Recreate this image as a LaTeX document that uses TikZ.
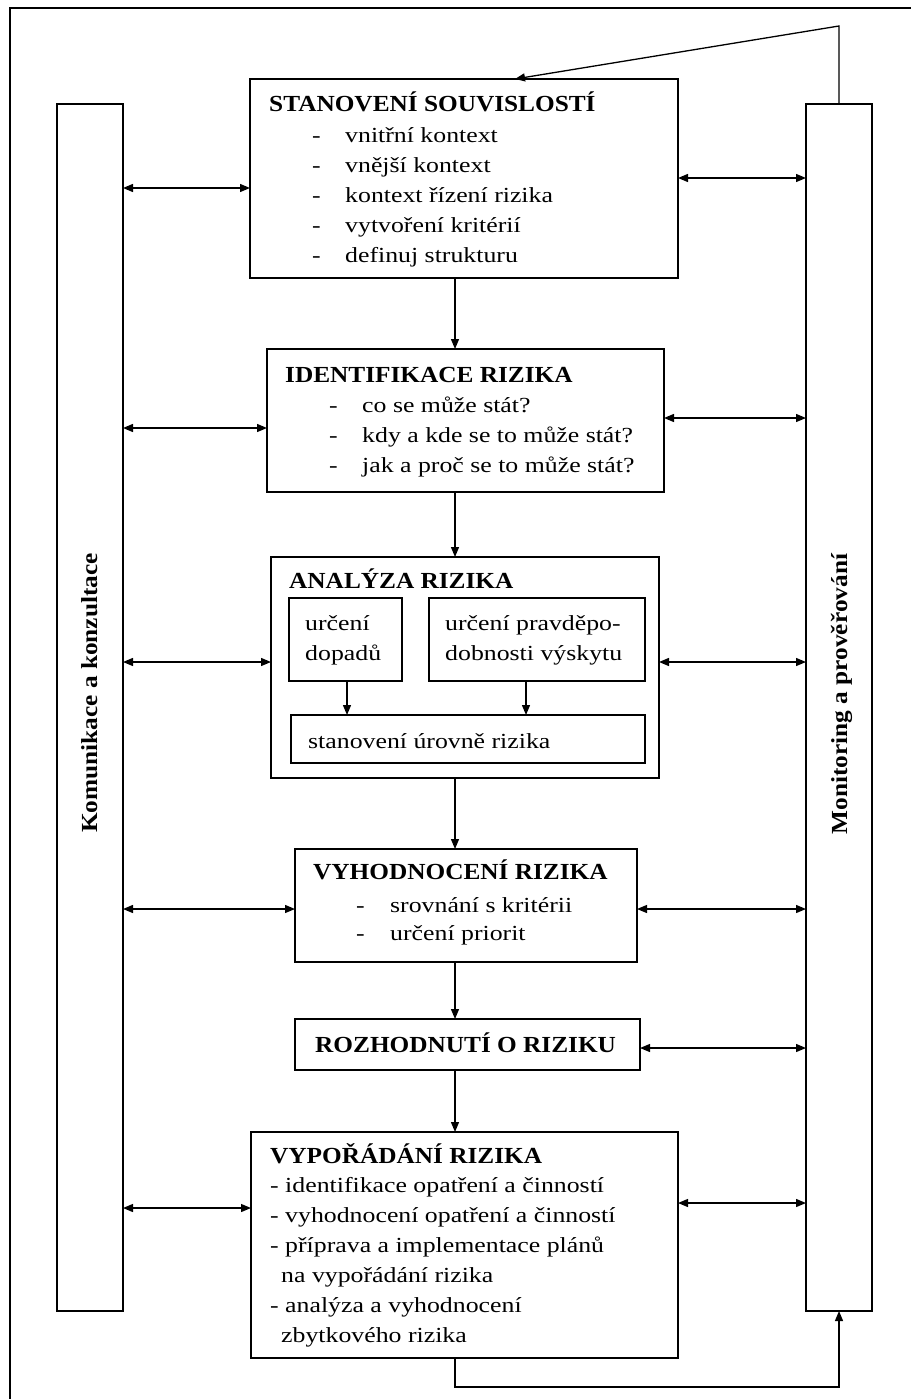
\documentclass[tikz,border=0pt]{standalone}
\usepackage{fontspec}
\setmainfont{Liberation Serif}
\newfontfamily\bodyfont{Liberation Serif}[FakeStretch=1.2]
\newfontfamily\titlefont{Liberation Serif}[FakeStretch=1.1]
\usetikzlibrary{arrows.meta}
\begin{document}
\begin{tikzpicture}[x=1pt,y=-1pt,
  box/.style={draw, line width=1.4pt, inner sep=0pt, outer sep=0pt},
  ttl/.style={anchor=base west, inner sep=0pt, font=\titlefont\bfseries\fontsize{23}{27}\selectfont},
  bd/.style={anchor=base west, inner sep=0pt, font=\bodyfont\fontsize{21.5}{25}\selectfont},
  vt/.style={anchor=base, inner sep=0pt, rotate=90, font=\titlefont\bfseries\fontsize{23}{27}\selectfont},
  arr/.style={line width=1.3pt, -{Triangle[length=10pt,width=8pt]}},
  darr/.style={line width=1.3pt, {Triangle[length=10pt,width=8pt]}-{Triangle[length=10pt,width=8pt]}},
  fb/.style={line width=1.3pt}]
\useasboundingbox (0,0) rectangle (911,1399);
% outer frame
\draw[line width=1.5pt] (10,1399) -- (10,8) -- (911,8);
% side columns
\node[box, minimum width=66pt, minimum height=1207pt] (kom) at (90,707.5) {};
\node[box, minimum width=66pt, minimum height=1207pt] (mon) at (839,707.5) {};
\node[vt] (komT) at (97,693) {Komunikace a konzultace};
\node[vt] (monT) at (847,694) {Monitoring a prověřování};
% main boxes
\node[box, minimum width=428pt, minimum height=199pt] (stan) at (464,178.5) {};
\node[box, minimum width=397pt, minimum height=143pt] (ident) at (465.5,420.5) {};
\node[box, minimum width=388pt, minimum height=221pt] (anal) at (465,667.5) {};
\node[box, minimum width=113pt, minimum height=83pt] (a1) at (345.5,639.5) {};
\node[box, minimum width=216pt, minimum height=83pt] (a2) at (537,639.5) {};
\node[box, minimum width=354pt, minimum height=48pt] (a3) at (468,739) {};
\node[box, minimum width=342pt, minimum height=113pt] (vyh) at (466,905.5) {};
\node[box, minimum width=345pt, minimum height=51pt] (roz) at (467.5,1044.5) {};
\node[box, minimum width=427pt, minimum height=226pt] (vyp) at (464.5,1245) {};
% texts: Stanoveni
\node[ttl] (stanT) at (269,112) {STANOVENÍ SOUVISLOSTÍ};
\node[bd] (s1d) at (312,143) {-};
\node[bd] (s1) at (345,143) {vnitřní kontext};
\node[bd] (s2d) at (312,172) {-};
\node[bd] (s2) at (345,172) {vnější kontext};
\node[bd] (s3d) at (312,202) {-};
\node[bd] (s3) at (345,202) {kontext řízení rizika};
\node[bd] (s4d) at (312,232) {-};
\node[bd] (s4) at (345,232) {vytvoření kritérií};
\node[bd] (s5d) at (312,262) {-};
\node[bd] (s5) at (345,262) {definuj strukturu};
% Identifikace
\node[ttl] (identT) at (285,382) {IDENTIFIKACE RIZIKA};
\node[bd] (i1d) at (329,412) {-};
\node[bd] (i1) at (362,412) {co se může stát?};
\node[bd] (i2d) at (329,442) {-};
\node[bd] (i2) at (362,442) {kdy a kde se to může stát?};
\node[bd] (i3d) at (329,472) {-};
\node[bd] (i3) at (362,472) {jak a proč se to může stát?};
% Analyza
\node[ttl] (analT) at (289,588) {ANALÝZA RIZIKA};
\node[bd] (a1a) at (305,630) {určení};
\node[bd] (a1b) at (305,660) {dopadů};
\node[bd] (a2a) at (445,630) {určení pravděpo-};
\node[bd] (a2b) at (445,660) {dobnosti výskytu};
\node[bd] (a3a) at (308,748) {stanovení úrovně rizika};
% Vyhodnoceni
\node[ttl] (vyhT) at (313,879) {VYHODNOCENÍ RIZIKA};
\node[bd] (v1d) at (356,912) {-};
\node[bd] (v1) at (390,912) {srovnání s kritérii};
\node[bd] (v2d) at (356,940) {-};
\node[bd] (v2) at (390,940) {určení priorit};
% Rozhodnuti
\node[ttl] (rozT) at (315,1052) {ROZHODNUTÍ O RIZIKU};
% Vyporadani
\node[ttl] (vypT) at (270,1163) {VYPOŘÁDÁNÍ RIZIKA};
\node[bd] (p1) at (270,1192) {- identifikace opatření a činností};
\node[bd] (p2) at (270,1222) {- vyhodnocení opatření a činností};
\node[bd] (p3) at (270,1252) {- příprava a implementace plánů};
\node[bd] (p4) at (281,1282) {na vypořádání rizika};
\node[bd] (p5) at (270,1312) {- analýza a vyhodnocení};
\node[bd] (p6) at (281,1342) {zbytkového rizika};
% vertical flow arrows
\coordinate (cx) at (455,0);
\draw[arr] (stan.south -| cx) -- (ident.north -| cx);
\draw[arr] (ident.south -| cx) -- (anal.north -| cx);
\draw[arr] (anal.south -| cx) -- (vyh.north -| cx);
\draw[arr] (vyh.south -| cx) -- (roz.north -| cx);
\draw[arr] (roz.south -| cx) -- (vyp.north -| cx);
% inner arrows
\coordinate (c1) at (347,0);
\coordinate (c2) at (526,0);
\draw[arr] (a1.south -| c1) -- (a3.north -| c1);
\draw[arr] (a2.south -| c2) -- (a3.north -| c2);
% side arrows
\coordinate (yL1) at (0,188); \coordinate (yR1) at (0,178);
\coordinate (yL2) at (0,428); \coordinate (yR2) at (0,418);
\coordinate (yL3) at (0,662); \coordinate (yR3) at (0,662);
\coordinate (yL4) at (0,909); \coordinate (yR4) at (0,909);
\coordinate (yR5) at (0,1048);
\coordinate (yL6) at (0,1208); \coordinate (yR6) at (0,1203);
\draw[darr] (kom.east |- yL1) -- (stan.west |- yL1);
\draw[darr] (stan.east |- yR1) -- (mon.west |- yR1);
\draw[darr] (kom.east |- yL2) -- (ident.west |- yL2);
\draw[darr] (ident.east |- yR2) -- (mon.west |- yR2);
\draw[darr] (kom.east |- yL3) -- (anal.west |- yL3);
\draw[darr] (anal.east |- yR3) -- (mon.west |- yR3);
\draw[darr] (kom.east |- yL4) -- (vyh.west |- yL4);
\draw[darr] (vyh.east |- yR4) -- (mon.west |- yR4);
\draw[darr] (roz.east |- yR5) -- (mon.west |- yR5);
\draw[darr] (kom.east |- yL6) -- (vyp.west |- yL6);
\draw[darr] (vyp.east |- yR6) -- (mon.west |- yR6);
% feedback loops
\coordinate (fbt) at (839,26);
\coordinate (fbb) at (839,1387);
\coordinate (st) at (515,0);
\draw[fb, arr] (mon.north) -- (fbt) -- (stan.north -| st);
\draw[fb, arr] (vyp.south -| cx) |- (fbb) -- (mon.south);
\end{tikzpicture}
\end{document}
